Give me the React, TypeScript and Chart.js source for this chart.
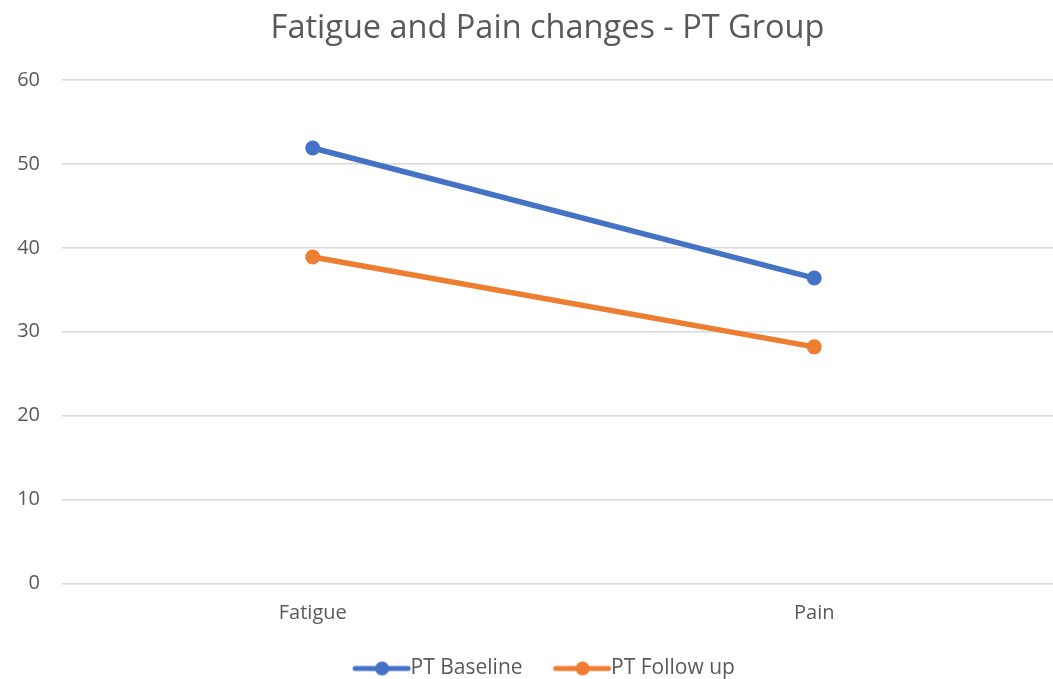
import React, { useEffect, useRef } from "react";
import { Chart, registerables } from "chart.js";

Chart.register(...registerables);

const categories = ["Fatigue", "Pain"];
const baselineValues = [51.9, 36.4];
const followUpValues = [38.9, 28.2];
const seriesNames = ["PT Baseline", "PT Follow up"];
const seriesColors = ["#4472C4", "#ED7D31"];
const titleText = "Fatigue and Pain changes - PT Group";

function legendMarker(color: string): HTMLCanvasElement {
  const c = document.createElement("canvas");
  c.width = 80;
  c.height = 16;
  const ctx = c.getContext("2d")!;
  ctx.strokeStyle = color;
  ctx.lineWidth = 5;
  ctx.lineCap = "round";
  ctx.beginPath();
  ctx.moveTo(15, 8);
  ctx.lineTo(68, 8);
  ctx.stroke();
  ctx.fillStyle = color;
  ctx.beginPath();
  ctx.arc(42, 8, 7, 0, Math.PI * 2);
  ctx.fill();
  return c;
}

// The original chart is cropped on the right: keep the category axis narrower than the canvas
const axisRightInset = {
  id: "axisRightInset",
  afterLayout(chart: any) {
    const x = chart.scales.x;
    x.right = chart.width - 27;
    x.width = x.right - x.left;
    x.bottom = x.top + 60;
    x.configure();
  },
};

export default function App() {
  const ref = useRef<HTMLCanvasElement>(null);
  useEffect(() => {
    document.body.style.margin = "0";
    const markers = seriesColors.map(legendMarker);
    const font = "'Open Sans', 'Noto Sans', sans-serif";
    const chart = new Chart(ref.current!, {
      type: "line",
      plugins: [axisRightInset],
      data: {
        labels: categories,
        datasets: [baselineValues, followUpValues].map((vals, i) => ({
          label: seriesNames[i],
          data: vals,
          borderColor: seriesColors[i],
          backgroundColor: seriesColors[i],
          borderWidth: 5.5,
          pointRadius: 7.5,
          pointHoverRadius: 7.5,
          pointBorderWidth: 0,
          borderCapStyle: "round" as const,
          clip: false as any,
        })),
      },
      options: {
        animation: false,
        responsive: false,
        maintainAspectRatio: false,
        layout: { padding: { left: 3, right: 0, top: 0, bottom: 0 } },
        plugins: {
          tooltip: { enabled: false },
          title: {
            display: true,
            text: titleText,
            color: "#595959",
            font: { family: font, size: 32.5, weight: "normal" },
            padding: { top: 9, bottom: 32 },
          },
          legend: {
            position: "bottom",
            labels: {
              usePointStyle: true,
              pointStyleWidth: 40,
              boxHeight: 16,
              color: "#595959",
              padding: 38,
              font: { family: font, size: 21 },
              generateLabels: (ch: any) => {
                const items = Chart.defaults.plugins.legend.labels.generateLabels(ch);
                items.forEach((it: any, i: number) => {
                  it.pointStyle = markers[i];
                });
                return items;
              },
            },
          },
        },
        scales: {
          x: {
            offset: true,
            grid: { display: false, drawTicks: false },
            border: { display: false },
            afterFit: (s: any) => {
              s.height = 36.5;
            },
            ticks: {
              color: "#595959",
              font: { family: font, size: 20 },
              padding: 18,
            },
          },
          y: {
            min: 0,
            max: 60,
            afterFit: (s: any) => {
              s.width = 59;
            },
            ticks: {
              stepSize: 10,
              color: "#595959",
              font: { family: font, size: 20 },
              padding: 22,
            },
            grid: { color: "#d9d9d9", lineWidth: 1.5, drawTicks: false },
            border: { display: false },
          },
        },
      },
    });
    return () => chart.destroy();
  }, []);
  return (
    <div style={{ width: 1053, height: 679, overflow: "hidden", position: "relative", background: "#fff" }}>
      <canvas ref={ref} width={1092} height={689} style={{ display: "block", width: 1092, height: 689 }} />
    </div>
  );
}
